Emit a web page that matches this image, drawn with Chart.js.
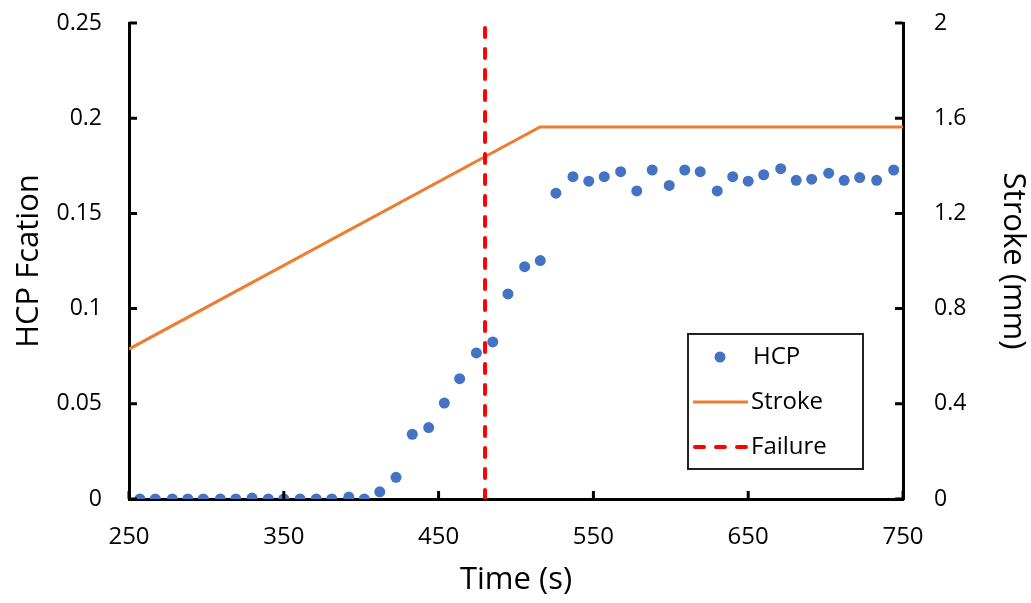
<!DOCTYPE html>
<html><head><meta charset="utf-8">
<script src="https://cdn.jsdelivr.net/npm/chart.js@4/dist/chart.umd.min.js"></script>
<style>html,body{margin:0;padding:0;background:#fff;}#wrap{width:1031px;height:603px;}</style>
</head><body><div id="wrap"><canvas id="c" width="1031" height="603"></canvas></div>
<script>
const hcpTime = [257,267,278,288,298,309,319,329.5,340,350,360.5,371,381,392,402,412,422.5,433,443.6,453.7,463.6,474.4,485,494.8,505.6,515.7,525.8,536.8,547,557,567.6,578,588,599,609,619,630,640,650,660,671,681,691,702,712,722,733,744];
const hcpValue = [0,0,0,0,0,0,0,0.0005,0,0,0,0,0,0.001,0,0.0038,0.0114,0.034,0.0375,0.0504,0.0632,0.0767,0.0825,0.1077,0.122,0.1252,0.1606,0.1693,0.1669,0.1693,0.1719,0.1618,0.1728,0.1647,0.1728,0.1719,0.1618,0.1693,0.1669,0.1703,0.1735,0.1674,0.168,0.1711,0.1674,0.1688,0.1674,0.1728];
const strokeTime = [250,515.5,750];
const strokeValue = [0.63,1.563,1.563];
const failureTime = [480,480];
const failureValue = [0,0.25];
const xTicks = [250,350,450,550,650,750];
const yTicks = [0,0.05,0.1,0.15,0.2,0.25];
const yTickLabels = ['0','0.05','0.1','0.15','0.2','0.25'];
const y2Ticks = [0,0.4,0.8,1.2,1.6,2];
const y2TickLabels = ['0','0.4','0.8','1.2','1.6','2'];

const FONT = "'Open Sans', sans-serif";
const toXY = (xs, ys) => xs.map((x,i)=>({x:x,y:ys[i]}));

const innerTicks = {
  id:'innerTicks',
  afterDatasetsDraw(chart){
    const ctx = chart.ctx, a = chart.chartArea;
    ctx.save(); ctx.strokeStyle='#000'; ctx.lineWidth=3; ctx.beginPath();
    const L=8;
    chart.scales.x.ticks.forEach(t=>{const p=chart.scales.x.getPixelForValue(t.value); ctx.moveTo(p,a.bottom); ctx.lineTo(p,a.bottom-L);});
    chart.scales.y.ticks.forEach(t=>{const p=chart.scales.y.getPixelForValue(t.value); ctx.moveTo(a.left,p); ctx.lineTo(a.left+L,p);});
    chart.scales.y2.ticks.forEach(t=>{const p=chart.scales.y2.getPixelForValue(t.value); ctx.moveTo(a.right,p); ctx.lineTo(a.right-L,p);});
    ctx.stroke();
    const bx=688, by=334, bw=175, bh=135;
    ctx.fillStyle='#fff'; ctx.fillRect(bx,by,bw,bh);
    ctx.lineWidth=2; ctx.strokeStyle='#222'; ctx.strokeRect(bx,by,bw,bh);
    ctx.font="24px "+FONT; ctx.textBaseline='middle'; ctx.fillStyle='#000';
    const ds = chart.data.datasets;
    const rows=[357,402,447];
    ctx.beginPath(); ctx.fillStyle=ds[0].backgroundColor; ctx.arc(720,rows[0],5.5,0,Math.PI*2); ctx.fill();
    ctx.fillStyle='#000'; ctx.fillText(ds[0].label,753,rows[0]);
    ctx.beginPath(); ctx.strokeStyle=ds[1].borderColor; ctx.lineWidth=ds[1].borderWidth; ctx.moveTo(693,rows[1]); ctx.lineTo(748,rows[1]); ctx.stroke();
    ctx.fillText(ds[1].label,751,rows[1]);
    ctx.beginPath(); ctx.strokeStyle=ds[2].borderColor; ctx.lineWidth=ds[2].borderWidth; ctx.lineCap='round'; ctx.setLineDash(ds[2].borderDash); ctx.moveTo(695,rows[2]); ctx.lineTo(748,rows[2]); ctx.stroke();
    ctx.setLineDash([]);
    ctx.fillText(ds[2].label,751,rows[2]);
    ctx.restore();
  }
};

const fitV = w => s => { s.width = w; s.paddingTop = 0; s.paddingBottom = 0; };

new Chart(document.getElementById('c'), {
  type:'scatter',
  data:{datasets:[
    {label:'HCP', data:toXY(hcpTime,hcpValue), yAxisID:'y', backgroundColor:'#4472C4', borderColor:'#4472C4', pointRadius:5.5, pointBorderWidth:0, showLine:false, order:2},
    {label:'Stroke', data:toXY(strokeTime,strokeValue), yAxisID:'y2', showLine:true, borderColor:'#ED7D31', backgroundColor:'#ED7D31', borderWidth:3, pointRadius:0, order:3},
    {label:'Failure', data:toXY(failureTime,failureValue), yAxisID:'y', showLine:true, borderColor:'#FF0000', backgroundColor:'#FF0000', borderWidth:4, borderDash:[9,12], borderCapStyle:'round', pointRadius:0, order:1}
  ]},
  options:{
    responsive:false, animation:false, devicePixelRatio:1,
    layout:{padding:{top:23,left:0,right:0,bottom:0}},
    plugins:{legend:{display:false}, tooltip:{enabled:false}},
    scales:{
      x:{type:'linear', min:250, max:750,
        afterBuildTicks:s=>{s.ticks=xTicks.map(v=>({value:v}));},
        afterFit:s=>{s.height=104; s.paddingLeft=0; s.paddingRight=0;},
        grid:{display:false, drawTicks:false},
        border:{display:true,color:'#000',width:3},
        ticks:{padding:24,color:'#000',font:{family:FONT,size:24},maxRotation:0},
        title:{display:true,text:'Time (s)',color:'#000',font:{family:FONT,size:31},padding:{top:0,bottom:4}}
      },
      y:{type:'linear', position:'left', min:0, max:0.25,
        afterBuildTicks:s=>{s.ticks=yTicks.map(v=>({value:v}));},
        afterFit:fitV(129),
        grid:{display:false, drawTicks:false},
        border:{display:true,color:'#000',width:3},
        ticks:{padding:27,color:'#000',font:{family:FONT,size:23},callback:(v,i)=>yTickLabels[i]},
        title:{display:true,text:'HCP Fcation',color:'#000',font:{family:FONT,size:31},padding:{top:11,bottom:0}}
      },
      y2:{type:'linear', position:'right', min:0, max:2,
        afterBuildTicks:s=>{s.ticks=y2Ticks.map(v=>({value:v}));},
        afterFit:fitV(128),
        grid:{display:false, drawTicks:false},
        border:{display:true,color:'#000',width:3},
        ticks:{padding:31,color:'#000',font:{family:FONT,size:23},callback:(v,i)=>y2TickLabels[i]},
        title:{display:true,text:'Stroke (mm)',color:'#000',font:{family:FONT,size:31},padding:{top:0,bottom:0}}
      }
    }
  },
  plugins:[innerTicks]
});
</script></body></html>
